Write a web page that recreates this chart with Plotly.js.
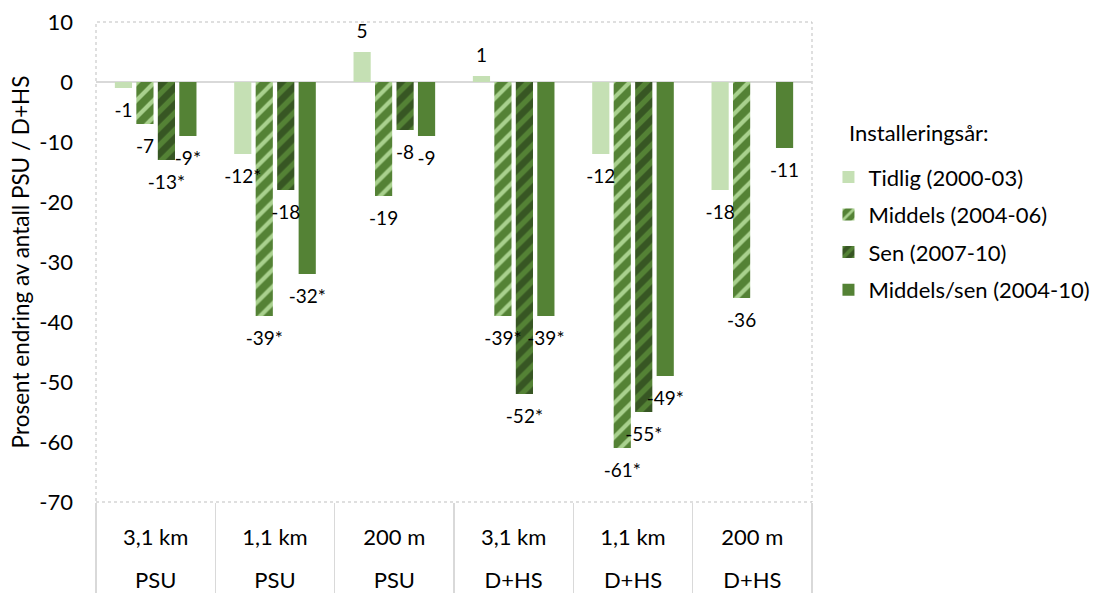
<!DOCTYPE html>
<html>
<head>
<meta charset="utf-8">
<script src="https://cdn.plot.ly/plotly-3.0.1.min.js"></script>
<style>html,body{margin:0;padding:0;background:#fff;}#chart{width:1107px;height:593px;}</style>
</head>
<body>
<div id="chart"></div>
<script>
// ---- data ----
const distances = ['3,1 km', '1,1 km', '200 m', '3,1 km', '1,1 km', '200 m'];
const sites = ['PSU', 'PSU', 'PSU', 'D+HS', 'D+HS', 'D+HS'];
const seriesNames = ['Tidlig (2000-03)', 'Middels (2004-06)', 'Sen (2007-10)', 'Middels/sen (2004-10)'];
const tidlig = [-1, -12, 5, 1, -12, -18];
const middels = [-7, -39, -19, -39, -61, -36];
const sen = [-13, -18, -8, -52, -55, null];
const middelsSen = [-9, -32, -9, -39, -49, -11];
const tidligSig = [false, true, false, false, false, false];
const middelsSig = [false, true, false, true, true, false];
const senSig = [true, false, false, true, true, false];
const middelsSenSig = [true, true, false, true, true, false];
const yTicks = [10, 0, -10, -20, -30, -40, -50, -60, -70];
const legendTitle = 'Installeringsår:';
const yTitle = 'Prosent endring av antall PSU / D+HS';

// ---- build ----
const FONT = 'Lato, "Liberation Sans", sans-serif';
const FS = 22;
const LFS = 19;
const cats = distances.map((d, i) => d + ' | ' + sites[i]);
const idx = distances.map((d, i) => i);
function labels(vals, sig) {
  return vals.map((v, i) => v === null ? '' : String(v) + (sig[i] ? '*' : ''));
}
const styles = [
  {color: '#c5e0b4'},
  {color: '#548235', pattern: {shape: '/', bgcolor: '#548235', fgcolor: '#a9d18e', size: 12, solidity: 0.35, fillmode: 'replace'}},
  {color: '#375623', pattern: {shape: '/', bgcolor: '#375623', fgcolor: '#548235', size: 12, solidity: 0.45, fillmode: 'replace'}},
  {color: '#548235'}
];
const allVals = [tidlig, middels, sen, middelsSen];
const allSig = [tidligSig, middelsSig, senSig, middelsSenSig];
const traces = allVals.map((vals, k) => ({
  type: 'bar',
  name: seriesNames[k],
  x: cats,
  y: vals,
  offsetgroup: 'g' + k,
  marker: Object.assign({line: {width: 0}}, styles[k]),
  legendgroup: 'g' + k,
  hoverinfo: 'skip'
}));
// label layer on top of all bars (same slots, transparent bars)
allVals.forEach((vals, k) => traces.push({
  type: 'bar',
  x: cats,
  y: vals,
  offsetgroup: 'g' + k,
  text: labels(vals, allSig[k]),
  textposition: 'outside',
  constraintext: 'none',
  cliponaxis: false,
  textfont: {family: FONT, size: LFS, color: '#000'},
  marker: {color: 'rgba(0,0,0,0)', line: {width: 0}},
  showlegend: false,
  hoverinfo: 'skip'
}));

const layout = {
  width: 1107, height: 593,
  margin: {l: 96, r: 278, t: 22, b: 91, pad: 0},
  paper_bgcolor: '#fff', plot_bgcolor: '#fff',
  font: {family: FONT, size: FS, color: '#000'},
  barmode: 'group',
  bargap: 0.28,
  bargroupgap: 0.2,
  showlegend: true,
  legend: {
    x: 1.023, xanchor: 'left', y: 0.7206, yanchor: 'top',
    font: {family: FONT, size: FS},
    traceorder: 'grouped', tracegroupgap: 6,
    itemclick: false, bgcolor: 'rgba(0,0,0,0)'
  },
  xaxis: {
    type: 'category', categoryorder: 'array', categoryarray: cats,
    tickvals: cats, ticktext: distances,
    ticks: '', showgrid: false, zeroline: false, showline: false,
    ticklabelstandoff: 20,
    tickfont: {family: FONT, size: FS}
  },
  xaxis2: {
    overlaying: 'x', anchor: 'y', side: 'bottom',
    range: [-0.5, 5.5], tickvals: idx, ticktext: sites,
    ticks: '', showgrid: false, zeroline: false, showline: false,
    ticklabelstandoff: 63,
    tickfont: {family: FONT, size: FS}
  },
  xaxis3: {
    overlaying: 'x', anchor: 'y', side: 'bottom',
    range: [-0.5, 5.5], tick0: -0.5, dtick: 1,
    ticks: 'outside', ticklen: 91, tickwidth: 1.5, tickcolor: '#d9d9d9',
    showticklabels: false, showgrid: false, zeroline: false, showline: false
  },
  yaxis: {
    range: [-70, 10], tickvals: yTicks, ticktext: yTicks.map(String),
    showgrid: false, zeroline: true, zerolinecolor: '#d9d9d9', zerolinewidth: 1.5,
    showline: false, ticks: '', ticklabelstandoff: 22,
    tickfont: {family: FONT, size: FS},
    title: {text: yTitle, font: {family: FONT, size: 22.5, color: '#000'}, standoff: 3}
  },
  shapes: [{
    type: 'rect', xref: 'paper', yref: 'paper', x0: 0, x1: 1, y0: 0, y1: 1,
    line: {color: '#bfbfbf', width: 1, dash: 'dot'}, fillcolor: 'rgba(0,0,0,0)', layer: 'below'
  }],
  annotations: [{
    text: legendTitle,
    xref: 'paper', yref: 'paper', x: 1.049, y: 0.769,
    xanchor: 'left', yanchor: 'middle', showarrow: false,
    font: {family: FONT, size: FS, color: '#000'}
  }]
};
// invisible helpers to activate the extra axes
traces.push({type: 'scatter', x: [0], y: [0], xaxis: 'x2', mode: 'markers', marker: {opacity: 0}, showlegend: false, hoverinfo: 'skip'});
traces.push({type: 'scatter', x: [0], y: [0], xaxis: 'x3', mode: 'markers', marker: {opacity: 0}, showlegend: false, hoverinfo: 'skip'});

const gd = document.getElementById('chart');
Plotly.newPlot(gd, traces, layout, {staticPlot: true}).then(function () {
  // push data labels a little further from the bar ends, like the original
  gd.querySelectorAll('text.bartext').forEach(function (el) {
    const pt = el.parentNode && el.parentNode.__data__;
    const v = pt && typeof pt.s === 'number' ? pt.s : 0;
    const dy = v < 0 ? 7 : -7;
    const t = el.getAttribute('transform') || '';
    el.setAttribute('transform', 'translate(0,' + dy + ') ' + t);
  });
});
</script>
</body>
</html>
